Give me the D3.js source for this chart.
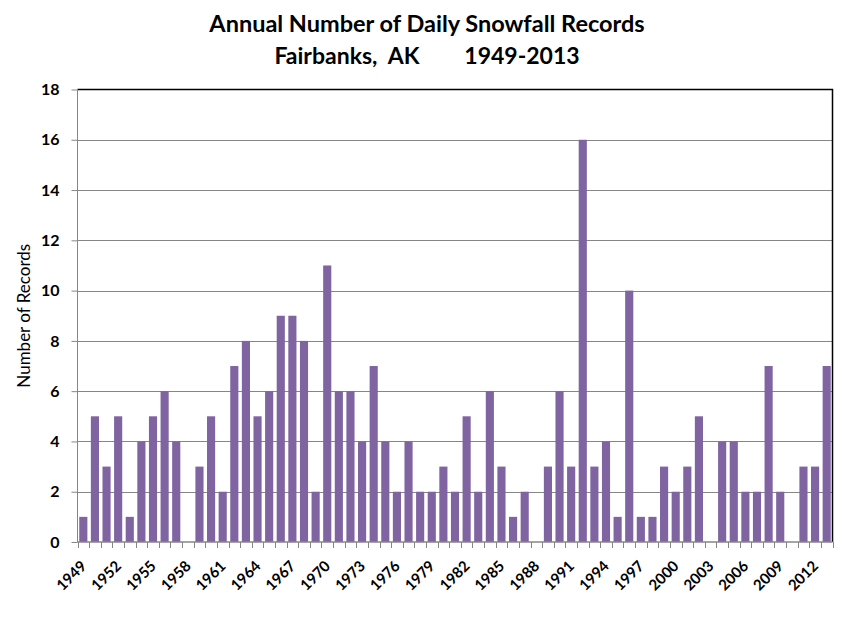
<!DOCTYPE html>
<html>
<head>
<meta charset="utf-8">
<script src="https://cdn.jsdelivr.net/npm/d3@7"></script>
<style>
  body { margin: 0; background: #fff; }
  text { font-family: Lato, "Open Sans", sans-serif; }
</style>
</head>
<body>
<script>
// data
let years = d3.range(1949, 2014)
let records = [1, 5, 3, 5, 1, 4, 5, 6, 4, 0,
               3, 5, 2, 7, 8, 5, 6, 9, 9, 8,
               2, 11, 6, 6, 4, 7, 4, 2, 4, 2,
               2, 3, 2, 5, 2, 6, 3, 1, 2, 0,
               3, 6, 3, 16, 3, 4, 1, 10, 1, 1,
               3, 2, 3, 5, 0, 4, 4, 2, 2, 7,
               2, 0, 3, 3, 7]
let yTicks = [0, 2, 4, 6, 8, 10, 12, 14, 16, 18]
let xLabelYears = d3.range(1949, 2014, 3)

let width = 854
let height = 638
let plotLeft = 77.5, plotRight = 832.5, plotTop = 89.5, plotBottom = 542

let svg = d3.select('body').append('svg')
    .attr('width', width)
    .attr('height', height)

let xScale = d3.scaleBand()
    .domain(years)
    .range([plotLeft, plotRight])
    .paddingInner(0.3)
    .paddingOuter(0.15)

let yScale = d3.scaleLinear()
    .domain([0, 18])
    .range([plotBottom, plotTop])

// grid lines
svg.append('g')
    .selectAll('line')
    .data(yTicks.filter(d => d > 0 && d < 18))
    .enter()
    .append('line')
    .attr('x1', plotLeft)
    .attr('x2', plotRight)
    .attr('y1', d => Math.round(yScale(d)) + 0.5)
    .attr('y2', d => Math.round(yScale(d)) + 0.5)
    .attr('stroke', '#868686')
    .attr('stroke-width', 1)

// bars
svg.append('g')
    .selectAll('rect')
    .data(records)
    .enter()
    .append('rect')
    .attr('x', (d, i) => xScale(years[i]))
    .attr('width', xScale.bandwidth())
    .attr('y', d => yScale(d))
    .attr('height', d => plotBottom - yScale(d))
    .attr('fill', '#8064A2')

// plot border top and right (black)
svg.append('path')
    .attr('d', `M${plotLeft},${plotTop}H${plotRight}V${plotBottom}`)
    .attr('fill', 'none')
    .attr('stroke', '#000')
    .attr('stroke-width', 1.5)

// y axis
let yAxis = d3.axisLeft(yScale)
    .tickValues(yTicks)
    .tickSize(6)
    .tickPadding(12)

let gy = svg.append('g')
    .attr('transform', `translate(${plotLeft}, 0)`)
    .call(yAxis)
gy.select('.domain').attr('stroke', '#868686').attr('d', `M0,${plotBottom}V${plotTop}`)
gy.selectAll('.tick line').attr('stroke', '#868686')
gy.selectAll('.tick text')
    .style('font-size', '16px')
    .style('font-weight', 'bold')
    .attr('fill', '#000')

// x axis
let xAxis = d3.axisBottom(xScale)
    .tickValues(xLabelYears)
    .tickSize(0)

let gx = svg.append('g')
    .attr('transform', `translate(0, ${plotBottom})`)
    .call(xAxis)
gx.select('.domain').remove()
gx.selectAll('.tick text')
    .style('font-size', '15px')
    .style('font-weight', 'bold')
    .style('text-anchor', 'end')
    .attr('fill', '#000')
    .attr('y', 0)
    .attr('dy', 0)
    .attr('transform', 'translate(4, 25) rotate(-45)')

// x axis line and small ticks at band edges
let step = xScale.step()
let edges = d3.range(years.length + 1).map(i => plotLeft + i * step)
svg.append('line')
    .attr('x1', plotLeft).attr('x2', plotRight)
    .attr('y1', plotBottom).attr('y2', plotBottom)
    .attr('stroke', '#868686')
    .attr('stroke-width', 1.5)
svg.append('g')
    .selectAll('line')
    .data(edges)
    .enter()
    .append('line')
    .attr('x1', d => Math.round(d) + 0.5)
    .attr('x2', d => Math.round(d) + 0.5)
    .attr('y1', plotBottom)
    .attr('y2', plotBottom + 6)
    .attr('stroke', '#868686')

// y title
svg.append('text')
    .attr('transform', `translate(30, ${(plotTop + plotBottom) / 2}) rotate(-90)`)
    .style('text-anchor', 'middle')
    .style('font-size', '17px')
    .text('Number of Records')

// title
svg.append('text')
    .attr('x', 427)
    .attr('y', 32)
    .style('text-anchor', 'middle')
    .style('font-size', '23.5px')
    .style('font-weight', 'bold')
    .text('Annual Number of Daily Snowfall Records')

svg.append('text')
    .attr('x', 427)
    .attr('y', 64)
    .style('text-anchor', 'middle')
    .style('font-size', '23px')
    .style('font-weight', 'bold')
    .style('white-space', 'pre')
    .text('Fairbanks,  AK        1949-2013')
</script>
</body>
</html>
